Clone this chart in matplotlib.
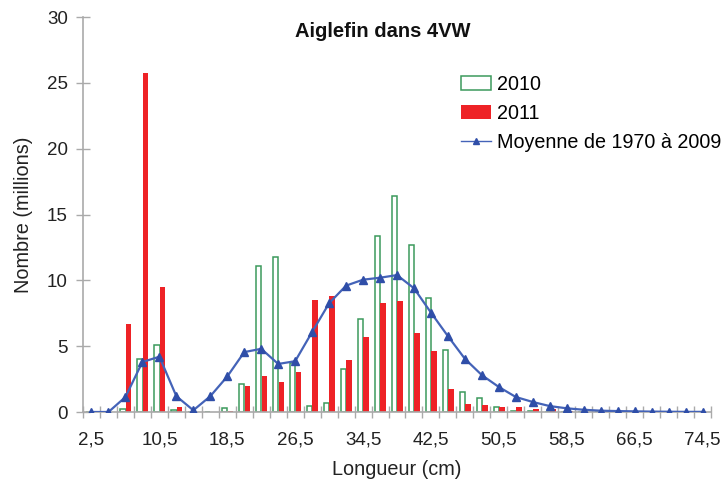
import numpy as np
import matplotlib
matplotlib.use("Agg")
import matplotlib.pyplot as plt
from matplotlib.ticker import FixedLocator
from matplotlib.lines import Line2D

plt.rcParams['font.family'] = ['Liberation Sans', 'DejaVu Sans']

# Classes de longueur (cm), pas de 2 cm
longueurs = [2.5 + 2 * i for i in range(37)]

n_2010 = [0, 0, 0.2, 4.0, 5.1, 0.15, 0, 0, 0.3, 2.15, 11.1, 11.8, 3.7, 0.45,
          0.7, 3.3, 7.1, 13.4, 16.4, 12.7, 8.65, 4.7, 1.5, 1.1, 0.4, 0.05,
          0.1, 0, 0, 0, 0, 0, 0, 0, 0, 0, 0]
n_2011 = [0, 0, 6.65, 25.75, 9.5, 0.38, 0, 0, 0.05, 1.97, 2.7, 2.27, 3.03, 8.5,
          8.8, 3.97, 5.7, 8.3, 8.4, 6.0, 4.65, 1.77, 0.64, 0.5, 0.4, 0.4,
          0.2, 0.2, 0.05, 0, 0, 0, 0, 0, 0, 0, 0]
moyenne = [0, 0, 1.14, 3.8, 4.2, 1.2, 0.13, 1.2, 2.7, 4.55, 4.8, 3.65, 3.86,
           6.08, 8.26, 9.6, 10.05, 10.2, 10.4, 9.4, 7.55, 5.76, 4.04, 2.8,
           1.9, 1.14, 0.76, 0.45, 0.28, 0.17, 0.1, 0.07, 0.05, 0.03, 0.02,
           0.01, 0.01]

x = np.arange(len(longueurs))

fig = plt.figure(figsize=(7.25, 4.87), dpi=100)
ax = fig.add_axes([0.1145, 0.154, 0.8662, 0.811])

w = 0.32
b1 = ax.bar(x - 0.15, n_2010, width=w, facecolor='white', edgecolor='#3c9a5c',
            linewidth=1.1, label='2010', zorder=2)
b2 = ax.bar(x + 0.18, n_2011, width=w, color='#ee2226', label='2011', zorder=2)
ax.plot(x, moyenne, color='#4463b8', linewidth=1.6, marker='^',
        markersize=6, markerfacecolor='#2f4ea8', markeredgecolor='#2f4ea8',
        zorder=3)
# poignée de légende plus fine, comme dans l'original
l1 = Line2D([], [], color='#4463b8', linewidth=1.0, marker='^', markersize=4.5,
            markerfacecolor='#2f4ea8', markeredgecolor='#2f4ea8')

ax.set_xlim(-0.5, 36.5)
ax.set_ylim(0, 30)
ax.set_yticks(range(0, 31, 5))
ax.tick_params(axis='y', labelsize=13.5, colors='#aaaaaa', labelcolor='#222222',
               direction='inout', length=10, width=1, pad=6)

ax.xaxis.set_major_locator(FixedLocator(x[::4]))
ax.set_xticklabels([f"{v:.1f}".replace('.', ',') for v in longueurs[::4]])
ax.xaxis.set_minor_locator(FixedLocator(np.arange(-0.5, 37, 1)))
ax.tick_params(axis='x', which='major', length=0, labelsize=13.5,
               labelcolor='#222222', pad=14)
ax.tick_params(axis='x', which='minor', direction='inout', length=9,
               width=1, colors='#aaaaaa')

for s in ['top', 'right']:
    ax.spines[s].set_visible(False)
for s in ['left', 'bottom']:
    ax.spines[s].set_color('#aaaaaa')
    ax.spines[s].set_linewidth(1.2)

ax.set_xlabel('Longueur (cm)', fontsize=14.3, color='#222222', labelpad=8)
ax.set_ylabel('Nombre (millions)', fontsize=14.3, color='#222222')
ax.yaxis.set_label_coords(-0.08, 0.5)
fig.text(0.528, 0.936, 'Aiglefin dans 4VW', fontsize=14.5, fontweight='bold',
         ha='center', va='center', color='#111111')

fig.legend([b1, b2, l1], ['2010', '2011', 'Moyenne de 1970 à 2009'],
           loc='upper left', bbox_to_anchor=(0.636, 0.846), frameon=False,
           fontsize=14.2, handlelength=1.5, handletextpad=0.3,
           labelspacing=0.5, borderaxespad=0, borderpad=0)

fig.savefig('out.png', dpi=100)
